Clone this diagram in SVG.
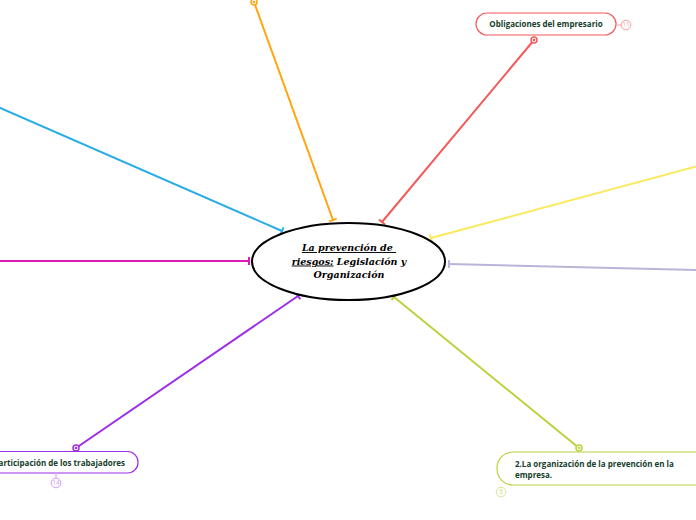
<svg xmlns="http://www.w3.org/2000/svg" width="696" height="520" viewBox="0 0 696 520">
<defs>
<style>
.c{fill:none;stroke-width:2;stroke-linecap:round}
.lbl{font-family:"Open Sans","Noto Sans",sans-serif;font-size:8px;font-weight:bold;fill:#143d2a}
.badge{font-family:"Open Sans",sans-serif;font-size:6.5px}
.main{font-family:"DejaVu Serif","Liberation Serif",serif;font-size:9.5px;font-weight:bold;font-style:italic;fill:#000}
</style>
<marker id="tOr" markerUnits="userSpaceOnUse" markerWidth="10" markerHeight="10" refX="5" refY="5" orient="auto"><path d="M5,1 L5,9" stroke="#ffa50f" stroke-width="2"/></marker>
<marker id="tRe" markerUnits="userSpaceOnUse" markerWidth="10" markerHeight="10" refX="5" refY="5" orient="auto"><path d="M5,1 L5,9" stroke="#f55a5a" stroke-width="2"/></marker>
<marker id="tBl" markerUnits="userSpaceOnUse" markerWidth="10" markerHeight="10" refX="5" refY="5" orient="auto"><path d="M5,1 L5,9" stroke="#2aace6" stroke-width="2"/></marker>
<marker id="tYe" markerUnits="userSpaceOnUse" markerWidth="10" markerHeight="10" refX="5" refY="5" orient="auto"><path d="M5,1 L5,9" stroke="#fbe95c" stroke-width="2"/></marker>
<marker id="tLa" markerUnits="userSpaceOnUse" markerWidth="10" markerHeight="10" refX="5" refY="5" orient="auto"><path d="M5,1 L5,9" stroke="#b9b4d8" stroke-width="2"/></marker>
<marker id="tMa" markerUnits="userSpaceOnUse" markerWidth="10" markerHeight="10" refX="5" refY="5" orient="auto"><path d="M5,1 L5,9" stroke="#dd1bb3" stroke-width="2"/></marker>
<marker id="tPu" markerUnits="userSpaceOnUse" markerWidth="10" markerHeight="10" refX="5" refY="5" orient="auto"><path d="M5,1 L5,9" stroke="#9d2ee8" stroke-width="2"/></marker>
<marker id="tGr" markerUnits="userSpaceOnUse" markerWidth="10" markerHeight="10" refX="5" refY="5" orient="auto"><path d="M5,1 L5,9" stroke="#bcd13e" stroke-width="2"/></marker>
</defs>
<rect width="696" height="520" fill="#fff"/>
<g id="connectors">
<line class="c" x1="254" y1="2" x2="333" y2="220" stroke="#ffa50f" marker-end="url(#tOr)"/>
<line class="c" x1="534" y1="40" x2="382" y2="222" stroke="#f55a5a" marker-end="url(#tRe)"/>
<line class="c" x1="-2" y1="107" x2="282" y2="231" stroke="#2aace6" marker-end="url(#tBl)"/>
<line class="c" x1="698" y1="166" x2="431" y2="238" stroke="#fbe95c" marker-end="url(#tYe)"/>
<line class="c" x1="698" y1="270" x2="449" y2="264" stroke="#b9b4d8" marker-end="url(#tLa)"/>
<line class="c" x1="-2" y1="261" x2="249" y2="261" stroke="#dd1bb3" marker-end="url(#tMa)"/>
<line class="c" x1="76" y1="448" x2="298" y2="296" stroke="#9d2ee8" marker-end="url(#tPu)"/>
<line class="c" x1="579" y1="448" x2="394" y2="297" stroke="#bcd13e" marker-end="url(#tGr)"/>
</g>
<g id="main">
<ellipse cx="348.5" cy="261.5" rx="96.5" ry="38.5" fill="#fff" stroke="#000" stroke-width="2"/>
<text class="main" text-anchor="middle"><tspan x="349" y="251" text-decoration="underline">La prevención de </tspan><tspan x="349" y="264.5"><tspan text-decoration="underline">riesgos:</tspan> Legislación y</tspan><tspan x="349" y="278">Organización</tspan></text>
</g>
<g id="n-orange">
<circle cx="254" cy="2" r="3" fill="#fff" stroke="#ffa50f" stroke-width="1.5"/>
<circle cx="254" cy="2" r="1.3" fill="#ffa50f"/>
</g>
<g id="n-obligaciones">
<rect x="476" y="13" width="140" height="22" rx="11" fill="#fff" stroke="#f55a5a" stroke-width="1.2"/>
<text class="lbl" x="546" y="27" text-anchor="middle">Obligaciones del empresario</text>
<circle cx="534" cy="40" r="3" fill="#fff" stroke="#f55a5a" stroke-width="1.5"/>
<circle cx="534" cy="40" r="1.3" fill="#f55a5a"/>
<line x1="616" y1="25" x2="621" y2="25" stroke="#f9a0a0" stroke-width="1"/>
<circle cx="626" cy="25" r="4.8" fill="#fff" stroke="#f9a0a0" stroke-width="1"/>
<text class="badge" x="626" y="27.3" text-anchor="middle" fill="#f9a0a0">11</text>
</g>
<g id="n-participacion">
<rect x="-40" y="451.5" width="178" height="21.5" rx="10.5" fill="#fff" stroke="#9d2ee8" stroke-width="1.2"/>
<text class="lbl" x="125" y="465.5" text-anchor="end">Participación de los trabajadores</text>
<circle cx="76" cy="448" r="3" fill="#fff" stroke="#9d2ee8" stroke-width="1.5"/>
<circle cx="76" cy="448" r="1.3" fill="#9d2ee8"/>
<line x1="56" y1="473" x2="56" y2="478" stroke="#d49df5" stroke-width="1"/>
<circle cx="56" cy="483" r="4.8" fill="#fff" stroke="#d49df5" stroke-width="1"/>
<text class="badge" x="56" y="485.3" text-anchor="middle" fill="#d49df5">14</text>
</g>
<g id="n-organizacion">
<rect x="497" y="452" width="230" height="33" rx="16" fill="#fff" stroke="#bcd13e" stroke-width="1.2"/>
<text class="lbl"><tspan x="515" y="467">2.La organización de la prevención en la</tspan><tspan x="515" y="478">empresa.</tspan></text>
<circle cx="579" cy="448" r="3" fill="#fff" stroke="#bcd13e" stroke-width="1.5"/>
<circle cx="579" cy="448" r="1.3" fill="#bcd13e"/>
<circle cx="501" cy="492" r="4.8" fill="#fff" stroke="#dbe69a" stroke-width="1"/>
<text class="badge" x="501" y="494.3" text-anchor="middle" fill="#c9d870">5</text>
</g>
</svg>
